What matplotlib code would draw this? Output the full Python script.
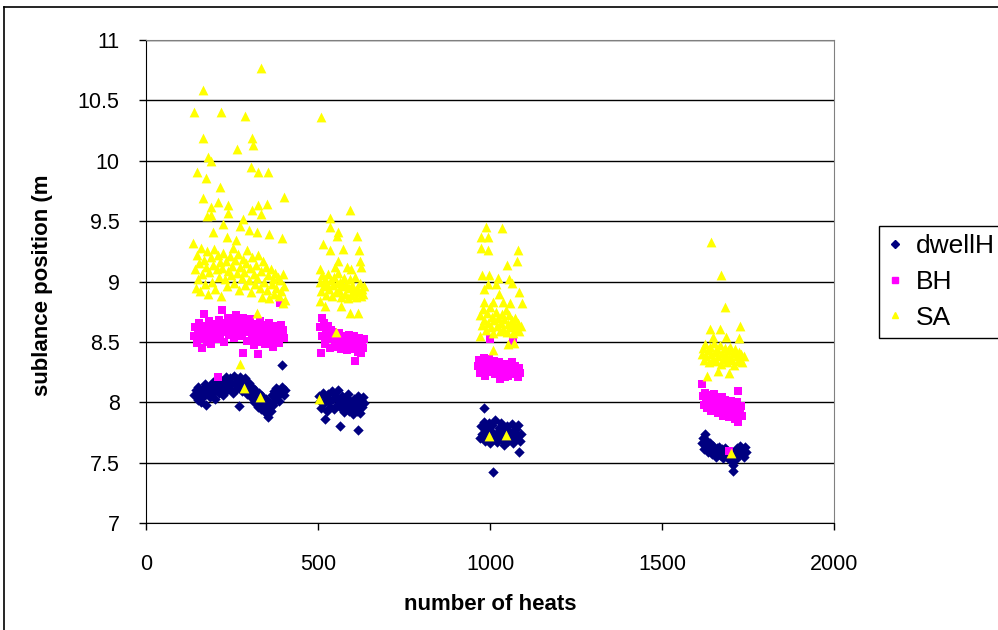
import matplotlib.pyplot as plt
from matplotlib.lines import Line2D

# ---- data (number of heats, sublance position m) ----
# dwellH
dwell_x = [140, 145, 150, 152, 158, 160, 165, 168, 172, 175, 178, 182, 185, 188, 192, 195, 198, 202, 205, 208,
           212, 215, 218, 222, 225, 228, 232, 235, 238, 242, 245, 248, 252, 255, 258, 262, 265, 268, 270, 272,
           275, 278, 282, 285, 288, 292, 295, 298, 302, 305, 308, 312, 315, 318, 322, 325, 328, 332, 335, 338,
           342, 345, 348, 352, 354, 358, 362, 365, 368, 372, 375, 378, 382, 385, 388, 392, 394, 396, 400, 403,
           503, 507, 510, 514, 517, 520, 522, 526, 529, 533, 536, 540, 543, 547, 550, 554, 557, 561, 564, 566,
           570, 573, 577, 580, 584, 587, 591, 594, 598, 601, 605, 608, 612, 615, 617, 619, 622, 625, 628, 631, 634,
           971, 975, 978, 982, 983, 986, 989, 993, 996, 1000, 1003, 1007, 1010, 1011, 1014, 1018, 1021, 1025, 1028,
           1032, 1035, 1039, 1042, 1046, 1049, 1053, 1056, 1060, 1063, 1067, 1070, 1074, 1077, 1081, 1082, 1084,
           1087, 1090,
           1615, 1619, 1622, 1625, 1628, 1632, 1635, 1639, 1642, 1646, 1649, 1653, 1656, 1660, 1663, 1667, 1670,
           1674, 1677, 1681, 1684, 1688, 1691, 1695, 1698, 1702, 1705, 1707, 1709, 1712, 1716, 1719, 1723, 1726,
           1730, 1733, 1737, 1740, 1743]
dwell_y = [8.06, 8.10, 8.02, 8.13, 8.08, 8.00, 8.11, 8.05, 8.15, 7.98, 8.09, 8.12, 8.04, 8.14, 8.07, 8.17, 8.10, 8.03, 8.13, 8.19,
           8.08, 8.15, 8.11, 8.18, 8.06, 8.14, 8.21, 8.10, 8.17, 8.12, 8.20, 8.15, 8.08, 8.22, 8.16, 8.11, 8.19, 8.13, 7.97, 8.21,
           8.15, 8.09, 8.18, 8.12, 8.20, 8.14, 8.07, 8.16, 8.11, 8.04, 8.13, 8.07, 8.00, 8.10, 8.03, 7.96, 8.08, 8.01, 7.94, 8.05,
           7.98, 7.92, 8.03, 7.96, 7.88, 8.00, 7.93, 8.06, 7.98, 8.09, 8.02, 8.12, 8.05, 8.10, 8.01, 8.08, 8.31, 8.13, 8.06, 8.10,
           8.05, 8.01, 7.95, 8.08, 7.99, 7.86, 8.04, 7.93, 8.07, 8.00, 7.96, 8.09, 8.03, 7.94, 8.06, 7.98, 8.10, 8.02, 7.80, 7.95,
           8.05, 7.99, 7.92, 8.04, 7.97, 8.07, 7.93, 8.01, 7.96, 7.90, 8.03, 7.98, 7.93, 8.05, 7.77, 8.00, 7.91, 8.02, 7.96, 8.04, 7.99,
           7.70, 7.80, 7.74, 7.84, 7.95, 7.68, 7.78, 7.72, 7.83, 7.66, 7.76, 7.81, 7.42, 7.70, 7.85, 7.74, 7.67, 7.79, 7.72,
           7.83, 7.69, 7.77, 7.65, 7.74, 7.80, 7.68, 7.76, 7.71, 7.82, 7.66, 7.75, 7.70, 7.78, 7.73, 7.81, 7.59,
           7.68, 7.74,
           7.66, 7.70, 7.61, 7.74, 7.64, 7.68, 7.59, 7.66, 7.62, 7.57, 7.64, 7.60, 7.55, 7.62, 7.58, 7.63, 7.56,
           7.61, 7.54, 7.59, 7.62, 7.55, 7.60, 7.57, 7.52, 7.58, 7.48, 7.43, 7.55, 7.60, 7.53, 7.62, 7.57, 7.64,
           7.58, 7.61, 7.55, 7.63, 7.59]

# BH
bh_x = [140, 143, 147, 150, 153, 157, 160, 163, 167, 170, 172, 176, 180, 183, 187, 190, 193, 197, 200, 204,
        207, 209, 211, 215, 218, 222, 225, 228, 232, 235, 238, 242, 245, 248, 252, 255, 258, 262, 265, 268,
        272, 275, 278, 281, 283, 286, 290, 293, 296, 300, 303, 307, 310, 313, 317, 320, 324, 326, 328, 331,
        335, 338, 342, 345, 348, 352, 355, 358, 362, 365, 368, 372, 375, 378, 382, 385, 388, 391, 395, 398, 401, 390,
        505, 508, 511, 513, 516, 519, 522, 525, 528, 532, 535, 538, 542, 545, 548, 552, 555, 559, 562, 566,
        569, 573, 576, 580, 583, 587, 590, 594, 597, 601, 604, 608, 611, 615, 618, 622, 625, 628, 631, 634,
        965, 969, 972, 976, 979, 983, 986, 990, 993, 997, 1000, 1001, 1004, 1008, 1011, 1015, 1018, 1022, 1025,
        1029, 1032, 1036, 1039, 1043, 1046, 1050, 1053, 1057, 1060, 1064, 1068, 1071, 1074, 1078, 1081, 1085, 1088,
        1615, 1618, 1621, 1624, 1628, 1631, 1635, 1638, 1642, 1645, 1649, 1652, 1656, 1659, 1663, 1666, 1670,
        1673, 1677, 1680, 1684, 1687, 1691, 1694, 1695, 1698, 1702, 1705, 1709, 1712, 1716, 1719, 1722, 1722,
        1726, 1729, 1733]
bh_y = [8.55, 8.62, 8.49, 8.58, 8.66, 8.52, 8.60, 8.45, 8.56, 8.73, 8.63, 8.50, 8.59, 8.67, 8.54, 8.48, 8.61, 8.57, 8.65, 8.52,
        8.60, 8.21, 8.68, 8.55, 8.63, 8.76, 8.58, 8.50, 8.66, 8.61, 8.70, 8.56, 8.64, 8.69, 8.59, 8.53, 8.67, 8.72, 8.62, 8.57,
        8.68, 8.64, 8.55, 8.70, 8.41, 8.60, 8.66, 8.51, 8.63, 8.58, 8.69, 8.54, 8.61, 8.47, 8.65, 8.56, 8.62, 8.40, 8.50, 8.67,
        8.59, 8.53, 8.64, 8.48, 8.57, 8.62, 8.51, 8.66, 8.55, 8.60, 8.46, 8.63, 8.56, 8.52, 8.61, 8.58, 8.49, 8.64, 8.55, 8.60, 8.53, 8.82,
        8.62, 8.41, 8.70, 8.55, 8.66, 8.48, 8.59, 8.52, 8.63, 8.56, 8.45, 8.60, 8.53, 8.58, 8.49, 8.55, 8.46, 8.52, 8.57, 8.44,
        8.50, 8.55, 8.47, 8.53, 8.43, 8.51, 8.56, 8.46, 8.52, 8.44, 8.55, 8.34, 8.49, 8.42, 8.53, 8.47, 8.41, 8.50, 8.45, 8.52,
        8.30, 8.35, 8.24, 8.32, 8.27, 8.37, 8.22, 8.33, 8.28, 8.36, 8.52, 8.25, 8.31, 8.27, 8.34, 8.23, 8.30, 8.26, 8.33,
        8.19, 8.28, 8.24, 8.31, 8.21, 8.27, 8.32, 8.22, 8.29, 8.25, 8.33, 8.51, 8.23, 8.30, 8.26, 8.21, 8.28, 8.24,
        8.15, 8.05, 7.98, 8.08, 8.02, 7.95, 8.06, 8.00, 7.93, 8.04, 7.98, 8.07, 7.96, 8.02, 7.91, 8.00, 7.95,
        8.04, 7.89, 7.98, 8.02, 7.93, 7.99, 7.60, 7.88, 7.96, 8.01, 7.90, 7.97, 7.86, 7.94, 8.00, 8.09, 7.84,
        7.92, 7.97, 7.89]

# SA
sa_x = [334, 166, 140, 218, 288, 166, 308, 311, 264, 180, 189, 148, 305, 325, 355, 174, 215, 401, 166, 208,
        189, 237, 325, 351, 308, 334, 189, 176, 238, 283, 137, 195, 224, 273, 299, 322, 358, 395, 235, 261,
        142, 145, 148, 151, 155, 158, 161, 164, 168, 171, 175, 178, 181, 184, 188, 191, 195, 198, 201, 205,
        208, 212, 215, 218, 222, 225, 229, 232, 236, 239, 243, 246, 250, 253, 257, 260, 264, 267, 271, 274,
        278, 281, 285, 288, 292, 295, 299, 302, 306, 309, 313, 316, 320, 323, 327, 330, 334, 337, 341, 344,
        348, 351, 355, 358, 362, 365, 369, 372, 376, 379, 383, 386, 390, 393, 397, 400, 403, 398,
        322, 273, 286, 331,
        509, 593, 535, 535, 559, 556, 612, 515, 535, 574, 620, 559, 622, 506, 549, 583, 597, 626,
        505, 509, 512, 516, 519, 523, 526, 530, 533, 537, 540, 544, 547, 551, 554, 558, 561, 565, 568, 572,
        575, 579, 582, 586, 589, 593, 596, 600, 603, 607, 610, 614, 617, 621, 624, 628, 631, 634,
        506, 520, 568, 593, 617, 503, 551,
        987, 1034, 974, 995, 974, 993, 1082, 1079, 1050, 978, 998, 1024, 1056, 1063, 995, 1018, 982, 1085,
        1027, 982, 1008, 1037, 1059, 1092,
        972, 976, 980, 984, 988, 991, 995, 999, 1002, 1006, 1010, 1013, 1017, 1020, 1024, 1028, 1031, 1035,
        1038, 1042, 1046, 1049, 1053, 1056, 1060, 1064, 1067, 1071, 1074, 1078, 1082, 1085, 1089,
        970, 1069, 1051, 1008, 998, 1047,
        1642, 1671, 1683, 1639, 1668, 1727, 1686, 1647, 1725, 1630, 1663, 1695, 1700,
        1615, 1619, 1622, 1626, 1629, 1633, 1636, 1640, 1643, 1647, 1650, 1654, 1657, 1661, 1664, 1668, 1671,
        1675, 1678, 1682, 1685, 1689, 1692, 1696, 1699, 1703, 1706, 1710, 1713, 1717, 1720, 1724, 1727, 1731,
        1734, 1738]
sa_y = [10.77, 10.59, 10.40, 10.40, 10.37, 10.19, 10.19, 10.13, 10.10, 10.03, 10.00, 9.91, 9.95, 9.91, 9.91, 9.86, 9.78, 9.70, 9.69, 9.66,
        9.62, 9.63, 9.63, 9.64, 9.59, 9.56, 9.55, 9.54, 9.57, 9.52, 9.32, 9.41, 9.48, 9.46, 9.43, 9.41, 9.39, 9.36, 9.37, 9.34,
        9.10, 8.95, 9.22, 9.02, 9.15, 8.92, 9.28, 9.06, 9.18, 8.98, 9.12, 9.25, 8.90, 9.08, 9.20, 9.00, 9.14, 9.27, 8.94, 9.10,
        9.22, 9.04, 9.16, 8.88, 9.11, 9.24, 9.02, 9.17, 8.96, 9.09, 9.21, 9.05, 9.13, 9.28, 8.99, 9.18, 9.07, 9.23, 8.93, 9.12,
        9.03, 9.19, 9.08, 8.97, 9.15, 9.26, 9.01, 9.11, 8.91, 9.20, 9.06, 8.98, 9.14, 9.03, 9.22, 8.95, 9.09, 8.87, 9.17, 9.00,
        9.12, 8.93, 9.05, 8.86, 9.10, 8.98, 9.02, 8.90, 9.07, 8.95, 9.04, 8.88, 9.01, 8.92, 9.06, 8.96, 8.85, 8.82,
        8.74, 8.32, 8.12, 8.04,
        10.36, 9.59, 9.53, 9.45, 9.41, 9.38, 9.38, 9.31, 9.26, 9.27, 9.26, 9.17, 9.17, 9.10, 9.12, 9.12, 9.10, 9.12,
        9.00, 8.92, 9.05, 8.96, 9.02, 8.89, 8.98, 9.06, 8.94, 9.01, 8.88, 8.97, 9.04, 8.91, 8.99, 9.07, 8.93, 9.00, 8.87, 8.96,
        9.03, 8.90, 8.98, 8.86, 8.95, 9.02, 8.89, 8.97, 8.92, 9.04, 8.87, 8.95, 8.91, 8.99, 8.88, 8.94, 8.90, 8.96,
        8.84, 8.80, 8.80, 8.74, 8.74, 8.03, 8.58,
        9.45, 9.44, 9.37, 9.37, 9.28, 9.26, 9.26, 9.17, 9.14, 9.05, 9.05, 9.03, 9.02, 8.99, 8.98, 8.98, 8.94, 8.91,
        8.90, 8.83, 8.83, 8.83, 8.82, 8.82,
        8.72, 8.64, 8.77, 8.68, 8.60, 8.74, 8.66, 8.79, 8.62, 8.71, 8.57, 8.68, 8.75, 8.63, 8.70, 8.59, 8.66, 8.73,
        8.61, 8.69, 8.76, 8.58, 8.65, 8.72, 8.62, 8.68, 8.57, 8.64, 8.70, 8.60, 8.66, 8.59, 8.63,
        8.55, 8.49, 8.48, 8.43, 7.72, 7.73,
        9.33, 9.05, 8.79, 8.61, 8.61, 8.63, 8.54, 8.54, 8.53, 8.22, 8.26, 8.24, 7.58,
        8.40, 8.45, 8.35, 8.48, 8.38, 8.43, 8.33, 8.46, 8.40, 8.36, 8.49, 8.42, 8.34, 8.44, 8.38, 8.47, 8.32,
        8.41, 8.36, 8.45, 8.39, 8.33, 8.43, 8.37, 8.46, 8.35, 8.41, 8.31, 8.44, 8.38, 8.34, 8.42, 8.36, 8.40,
        8.33, 8.38]

x_ticks = [0, 500, 1000, 1500, 2000]
y_ticks = [7, 7.5, 8, 8.5, 9, 9.5, 10, 10.5, 11]
y_tick_labels = ["7", "7.5", "8", "8.5", "9", "9.5", "10", "10.5", "11"]

font = ["Liberation Sans", "DejaVu Sans"]

W, H = 998, 630
fig = plt.figure(figsize=(W / 100, H / 100), dpi=100)
ax = fig.add_axes([146 / W, 1 - 523 / H, (834 - 146) / W, (523 - 40) / H])

ax.scatter(dwell_x, dwell_y, marker="D", s=28, color="#000080", linewidths=0, zorder=3)
ax.scatter(bh_x, bh_y, marker="s", s=34, color="#FF00FF", linewidths=0, zorder=4)
ax.scatter(sa_x, sa_y, marker="^", s=50, color="#FFFF00", linewidths=0, zorder=5)

ax.set_xlim(0, 2000)
ax.set_ylim(7, 11)
ax.set_xticks(x_ticks)
ax.set_yticks(y_ticks)
ax.set_yticklabels(y_tick_labels)
for lab in ax.get_xticklabels() + ax.get_yticklabels():
    lab.set_family(font)
    lab.set_fontsize(15.5)
ax.tick_params(axis="x", direction="out", length=5, width=1, pad=17)
ax.tick_params(axis="y", direction="out", length=5, width=1, pad=14)

ax.yaxis.grid(True, color="black", linewidth=1.0)
ax.set_axisbelow(True)
ax.spines["left"].set_color("black")
ax.spines["bottom"].set_color("black")
ax.spines["top"].set_color("#808080")
ax.spines["right"].set_color("#808080")

fig.text(490 / W, 1 - 605 / H, "number of heats", ha="center", va="center",
         family=font, fontweight="bold", fontsize=16)
fig.text(43 / W, 1 - 285 / H, "sublance position (m", ha="center", va="center",
         rotation=90, family=font, fontweight="bold", fontsize=16)

# outer chart border (left and top edges visible)
fig.add_artist(Line2D([4 / W, 4 / W], [0, 1 - 7 / H], color="black", lw=1.2))
fig.add_artist(Line2D([4 / W, 1], [1 - 7 / H, 1 - 7 / H], color="black", lw=1.2))

handles = [
    Line2D([], [], linestyle="none", marker="D", markersize=4, color="#000080"),
    Line2D([], [], linestyle="none", marker="s", markersize=4.5, color="#FF00FF"),
    Line2D([], [], linestyle="none", marker="^", markersize=5, color="#FFFF00"),
]
leg = fig.legend(handles, ["dwellH", "BH", "SA"], loc="upper left",
                 bbox_to_anchor=(879 / W, 1 - 226 / H), prop={"family": font, "size": 19},
                 frameon=True, fancybox=False, edgecolor="black", framealpha=1,
                 handlelength=0.6, handletextpad=0.5, borderpad=0.3, labelspacing=0.45,
                 borderaxespad=0)
leg.get_frame().set_linewidth(1.0)

fig.savefig("out.png", dpi=100)
